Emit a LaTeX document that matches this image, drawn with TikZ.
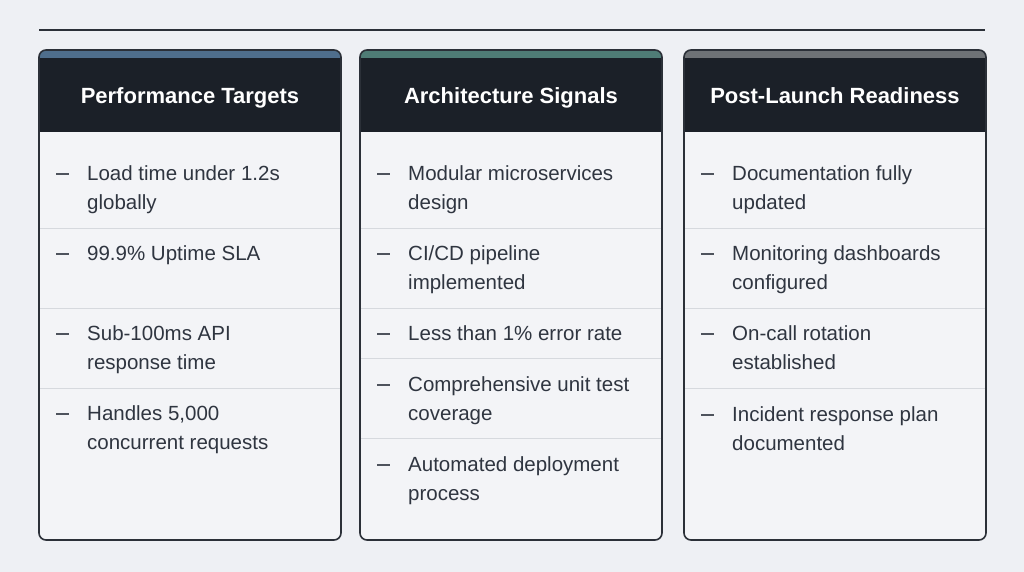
\documentclass[tikz,border=0pt]{standalone}
\usepackage{fontspec}
\setmainfont{Liberation Sans}
\usetikzlibrary{positioning}
\definecolor{bgc}{HTML}{EEF0F4}
\definecolor{headc}{HTML}{1B2028}
\definecolor{cardc}{HTML}{F3F4F7}
\definecolor{edgec}{HTML}{2B3038}
\definecolor{divc}{HTML}{D6D9DE}
\definecolor{txtc}{HTML}{2F3540}
\definecolor{stripa}{HTML}{4F6E8C}
\definecolor{stripb}{HTML}{4F7C76}
\definecolor{stripc}{HTML}{6E7276}
\tikzset{
  head/.style={anchor=base, font=\fontsize{22}{26}\selectfont\bfseries, text=white},
  item/.style={anchor=north west, inner sep=0pt, align=left,
    font=\fontsize{20.5}{29}\selectfont, text=txtc},
  bullet/.style={line width=2.6pt, draw=txtc!85}
}
\begin{document}
\begin{tikzpicture}[x=1pt,y=-1pt]
\fill[bgc] (0,0) rectangle (1024,572);
\useasboundingbox (0,0) rectangle (1024,572);
\draw[line width=2pt, edgec] (39,30) -- (985,30);
% cards
\foreach \x/\c/\t/\n in {39/stripa/Performance Targets/perf,360/stripb/Architecture Signals/arch,684/stripc/Post-Launch Readiness/post}{
  \fill[cardc, rounded corners=7pt] (\x,50) rectangle ++(302,490);
  \begin{scope}
    \clip[rounded corners=7pt] (\x,50) rectangle ++(302,490);
    \fill[\c] (\x,50) rectangle ++(302,8);
    \fill[headc] (\x,58) rectangle ++(302,74);
  \end{scope}
  \draw[edgec, line width=1.6pt, rounded corners=7pt] (\x,50) rectangle ++(302,490);
  \node[head] (\n) at (\x+151,104) {\t};
}
% dividers
\foreach \x/\y in {39/228,39/308,39/388,360/228,360/308,360/358,360/438,684/228,684/308,684/388}
  \draw[divc, line width=1pt] (\x+1,\y) -- ++(300,0);
% items
\foreach \x/\y/\s [count=\i] in {
  39/160/{Load time under 1.2s\\globally},
  39/240/{99.9\% Uptime SLA},
  39/320/{Sub-100ms API\\response time},
  39/400/{Handles 5,000\\concurrent requests},
  360/160/{Modular microservices\\design},
  360/240/{CI/CD pipeline\\implemented},
  360/320/{Less than 1\% error rate},
  360/371/{Comprehensive unit test\\coverage},
  360/451/{Automated deployment\\process},
  684/160/{Documentation fully\\updated},
  684/240/{Monitoring dashboards\\configured},
  684/320/{On-call rotation\\established},
  684/401/{Incident response plan\\documented}}{
  \node[item] (it\i) at (\x+48,\y+5) {\s};
  \draw[bullet] (\x+17,\y+14) -- ++(13,0);
}
\end{tikzpicture}
\end{document}
